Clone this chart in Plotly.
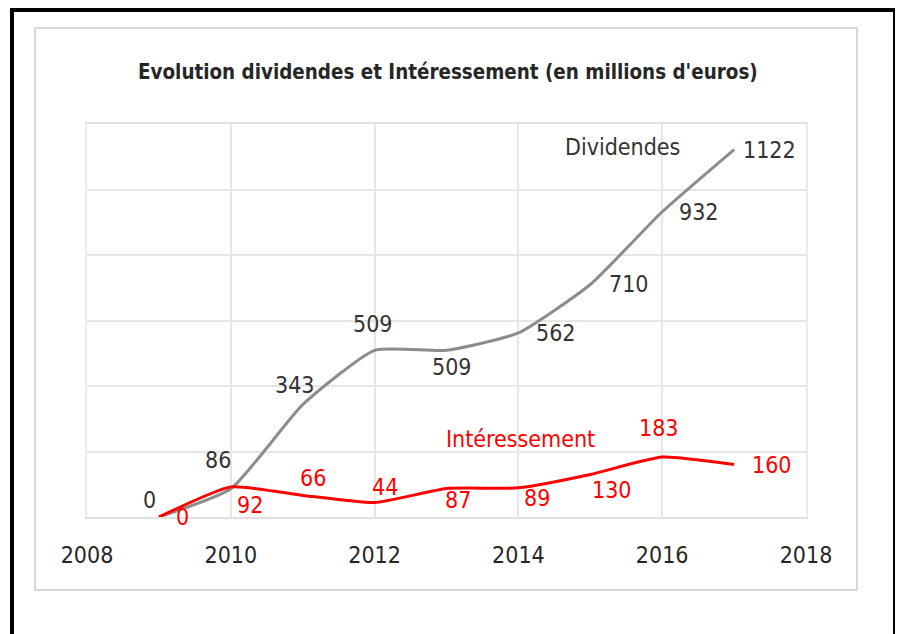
import plotly.graph_objects as go

years = [2009, 2010, 2011, 2012, 2013, 2014, 2015, 2016, 2017]
dividendes = [0, 86, 343, 509, 509, 562, 710, 932, 1122]
interessement = [0, 92, 66, 44, 87, 89, 130, 183, 160]
x_ticks = [2008, 2010, 2012, 2014, 2016, 2018]

title_text = "Evolution dividendes et Intéressement (en millions d'euros)"
FONT = "DejaVu Sans Condensed, Liberation Sans, sans-serif"

# label offsets in pixels (style only)
div_shift = [(-9, 17), (-13, 29), (-8, 20), (-2, 26), (5, -17), (38, 0), (39, 0), (37, 0), (35, 0)]
int_shift = [(24, 0), (19, -18), (10, 17), (10, 16), (11, -11), (19, -10), (22, -16), (-3, 29), (38, 0)]

GRAY = "#8c8c8c"
RED = "#ff0000"
TXT = "#333333"

OFF = 8  # page body margin
FW, FH = 903 - OFF, 634 - OFF

fig = go.Figure()
fig.add_trace(go.Scatter(x=years, y=dividendes, mode="lines",
                         line=dict(color=GRAY, width=3, shape="spline", smoothing=0.5),
                         name="Dividendes", hoverinfo="skip"))
fig.add_trace(go.Scatter(x=years, y=interessement, mode="lines",
                         line=dict(color=RED, width=3, shape="spline", smoothing=0.5),
                         name="Intéressement", hoverinfo="skip"))

ann = []
for x, v, (dx, dy) in zip(years, dividendes, div_shift):
    ann.append(dict(x=x, y=v, xref="x", yref="y", text=str(v), showarrow=False,
                    xshift=dx, yshift=dy, font=dict(family=FONT, size=23, color=TXT)))
for x, v, (dx, dy) in zip(years, interessement, int_shift):
    ann.append(dict(x=x, y=v, xref="x", yref="y", text=str(v), showarrow=False,
                    xshift=dx, yshift=dy, font=dict(family=FONT, size=23, color=RED)))

# page pixel positions -> paper coordinates
L, R, T, B = 87 - OFF, 806 - OFF, 124 - OFF, 517 - OFF
W, H = R - L, B - T
def px(xp): return (xp - OFF - L) / W
def py(yp): return (B - (yp - OFF)) / H

ann.append(dict(x=px(622), y=py(147), xref="paper", yref="paper", text="Dividendes",
                xanchor="center", yanchor="middle",
                showarrow=False, font=dict(family=FONT, size=23, color=TXT)))
ann.append(dict(x=px(520), y=py(439), xref="paper", yref="paper", text="Intéressement",
                xanchor="center", yanchor="middle",
                showarrow=False, font=dict(family=FONT, size=23, color=RED)))
ann.append(dict(x=px(448), y=py(72), xref="paper", yref="paper", text="<b>" + title_text + "</b>",
                xanchor="center", yanchor="middle",
                showarrow=False, font=dict(family=FONT, size=20.4, color="#262626")))

shapes = [
    dict(type="rect", xref="paper", yref="paper", x0=px(35), x1=px(857), y0=py(590), y1=py(28),
         line=dict(color="#d9d9d9", width=2), layer="below"),
    dict(type="rect", xref="paper", yref="paper", x0=px(12), x1=px(895), y0=py(680), y1=py(10),
         line=dict(color="#000000", width=4), layer="below"),
]

fig.update_layout(
    width=FW, height=FH,
    margin=dict(l=L, r=FW - R, t=T, b=FH - B),
    paper_bgcolor="white", plot_bgcolor="white",
    showlegend=False,
    annotations=ann, shapes=shapes,
    xaxis=dict(range=[2008, 2018], tickvals=x_ticks, ticktext=[str(t) for t in x_ticks],
               showgrid=True, gridcolor="#e6e6e6", gridwidth=2, zeroline=False,
               showline=True, mirror=True, linecolor="#e0e0e0", linewidth=2, ticks="",
               ticklabelstandoff=16,
               tickfont=dict(family=FONT, size=23, color="#262626")),
    yaxis=dict(range=[0, 1200], dtick=200, showticklabels=False, showgrid=True,
               gridcolor="#e6e6e6", gridwidth=2, zeroline=False,
               showline=True, mirror=True, linecolor="#ebebeb", linewidth=2),
)

fig.write_html("out.html")
